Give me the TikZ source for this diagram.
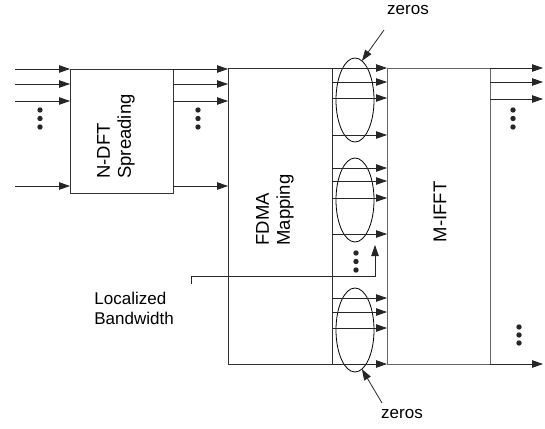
\documentclass[tikz,border=0pt]{standalone}
\usepackage{fontspec}
\setmainfont{Liberation Sans}
\usetikzlibrary{shapes.geometric,arrows.meta,calc}
\begin{document}
\begin{tikzpicture}[x=1pt,y=-1pt,
  line width=0.8pt,
  box/.style={draw=black!80,line width=0.8pt,inner sep=0pt,outer sep=0pt},
  oval/.style={ellipse,draw=black,line width=0.8pt,minimum width=38pt,minimum height=84pt,inner sep=0pt,outer sep=0pt},
  arr/.style={-{Triangle[length=11pt,width=7.5pt]},draw=black!85,line width=0.8pt},
  rlabel/.style={rotate=90,align=left,font=\fontsize{18.5}{21}\selectfont,inner sep=0pt},
  hlabel/.style={font=\fontsize{17}{20}\selectfont,inner sep=0pt},
  dot/.style={circle,fill=black!85,draw=none,minimum size=5.4pt,inner sep=0pt}]
\useasboundingbox (0,0) rectangle (545,428);

% boxes
\node[box,minimum width=103pt,minimum height=124pt] (ndft) at (121.5,131) {};
\node[box,minimum width=104pt,minimum height=296pt] (fdma) at (280,216) {};
\node[box,draw=black!60,minimum width=103pt,minimum height=296pt] (mifft) at (438.5,216) {};

\node[rlabel] (ndftl) at (116,136.5) {N-DFT\\Spreading};
\node[rlabel] (fdmal) at (275,210) {FDMA\\Mapping};
\node[rlabel] (mifftl) at (440,212) {M-IFFT};

% inputs and N-DFT outputs
\foreach \y [count=\i] in {69,84,101,186} {
  \coordinate (in\i) at (15,\y);
  \draw[arr] (in\i) -- (in\i -| ndft.west);
  \draw[arr] (in\i -| ndft.east) -- (in\i -| fdma.west);
}
\foreach \y [count=\i] in {110,118.5,127} {
  \node[dot] (da\i) at (40,\y) {};
  \node[dot] (db\i) at (198,\y) {};
  \node[dot] (dc\i) at (513,\y) {};
}

% ellipses
\node[oval] (e1) at (355,100) {};
\node[oval] (e2) at (355,200) {};
\node[oval] (e3) at (355,330) {};

% FDMA -> M-IFFT
\foreach \y [count=\i] in {68,82,98,135,168,181,198,234,298,312,328,364} {
  \coordinate (m\i) at (332,\y);
  \draw[arr] (m\i) -- (m\i -| mifft.west);
}
\foreach \y [count=\i] in {253,261.5,270} {
  \node[dot] (dd\i) at (356,\y) {};
}

% M-IFFT outputs
\foreach \y [count=\i] in {68,82,99,364} {
  \coordinate (o\i) at (490,\y);
  \coordinate (t\i) at (543,\y);
  \draw[arr] (o\i) -- (t\i);
}
\foreach \y [count=\i] in {327,335,343} {
  \node[dot] (de\i) at (519,\y) {};
}

% zeros labels
\node[hlabel,anchor=base] (z1) at (408,15) {zeros};
\coordinate (z1s) at (384,30);
\draw[arr] (z1s) -- (e1.80);
\node[hlabel,anchor=base] (z2) at (402,418) {zeros};
\coordinate (z2s) at (382,403);
\draw[arr] (z2s) -- (e3.-80);

% localized bandwidth
\node[hlabel,align=left,anchor=west] (loc) at (94,308) {Localized\\Bandwidth};
\coordinate (lb) at (191,284);
\coordinate (lbtip) at (375,245);
\draw[arr] (lb) -- ++(0,-8) -| (lbtip);
\end{tikzpicture}
\end{document}
